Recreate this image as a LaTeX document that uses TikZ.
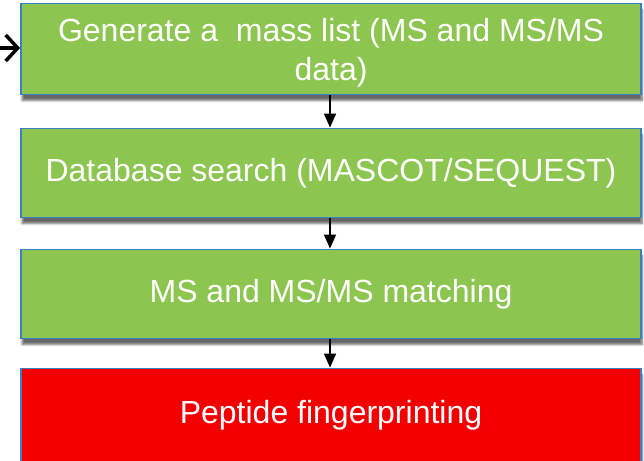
\documentclass[tikz,border=0pt]{standalone}
\usepackage{fontspec}
\setmainfont{Liberation Sans}
\usetikzlibrary{arrows.meta,shadows.blur}
\definecolor{boxgreen}{RGB}{140,198,80}
\definecolor{boxred}{RGB}{242,0,0}
\definecolor{boxblue}{RGB}{58,126,196}
\tikzset{
    stepbox/.style={draw=boxblue, line width=1.8pt, fill=boxgreen, text=white,
        minimum width=620pt, align=center, inner sep=0pt,
        font=\fontsize{32}{39}\selectfont,
        blur shadow={shadow xshift=1pt, shadow yshift=-6pt, shadow blur steps=8, shadow opacity=60}},
    flowarrow/.style={line width=1.5pt, -{Triangle[length=14pt,width=12pt]}},
    inarrow/.style={line width=3.5pt, -{Straight Barb[length=12pt,width=26pt]}}
}
\begin{document}
\begin{tikzpicture}[x=1pt, y=-1pt]
    \useasboundingbox (0,0) rectangle (644,460);

    % process steps
    \node[stepbox, minimum height=91pt, text depth=0pt] (masslist) at (331,49) {Generate a \ mass list (MS and MS/MS\\data)};
    \node[stepbox, minimum height=89pt] (dbsearch) at (331,173) {Database search (MASCOT/SEQUEST)};
    \node[stepbox, minimum height=89pt] (matching) at (331,294) {MS and MS/MS matching};
    \node[stepbox, fill=boxred, minimum height=93pt] (fingerprint) at (331,415) {Peptide fingerprinting};

    % incoming arrow
    \coordinate (input) at (-6,48);
    \draw[inarrow] (input) -- (masslist.west |- input);

    % flow between steps
    \draw[flowarrow] (masslist.south -| 330,0) -- (dbsearch.north -| 330,0);
    \draw[flowarrow] (dbsearch.south -| 330,0) -- (matching.north -| 330,0);
    \draw[flowarrow] (matching.south -| 330,0) -- (fingerprint.north -| 330,0);
\end{tikzpicture}
\end{document}
